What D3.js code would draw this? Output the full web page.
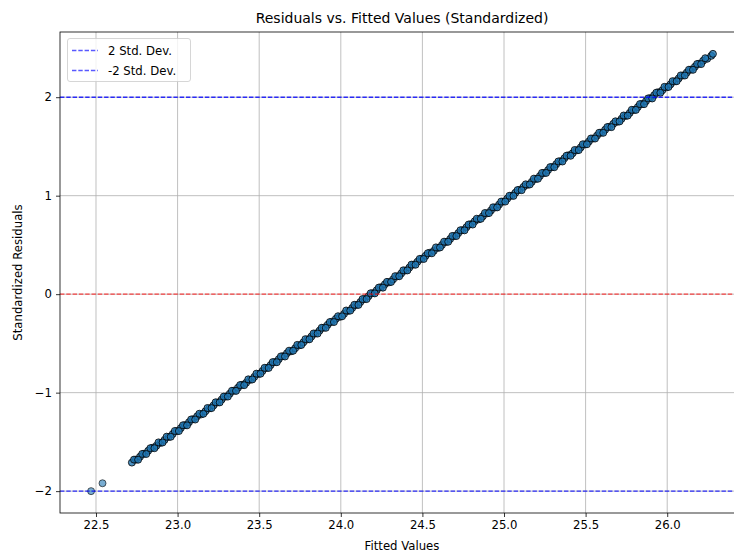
<!DOCTYPE html>
<html>
<head>
<meta charset="utf-8">
<script src="https://cdn.jsdelivr.net/npm/d3@7"></script>
<style>
html,body{margin:0;padding:0;background:#fff;}
svg{display:block;font-family:"DejaVu Sans",sans-serif;}
</style>
</head>
<body>
<svg id="chart" width="734" height="556"></svg>
<script>
// ---- data ----
const outlierFitted = [22.47, 22.54];
const outlierResiduals = [-2.00, -1.92];
const fittedValues = [
22.720,22.745,22.770,22.795,22.820,22.845,22.870,22.895,22.920,22.945,
22.970,22.995,23.020,23.045,23.070,23.095,23.120,23.145,23.170,23.195,
23.220,23.245,23.270,23.295,23.320,23.345,23.370,23.395,23.420,23.445,
23.470,23.495,23.520,23.545,23.570,23.595,23.620,23.645,23.670,23.695,
23.720,23.745,23.770,23.795,23.820,23.845,23.870,23.895,23.920,23.945,
23.970,23.995,24.020,24.045,24.070,24.095,24.120,24.145,24.170,24.195,
24.220,24.245,24.270,24.295,24.320,24.345,24.370,24.395,24.420,24.445,
24.470,24.495,24.520,24.545,24.570,24.595,24.620,24.645,24.670,24.695,
24.720,24.745,24.770,24.795,24.820,24.845,24.870,24.895,24.920,24.945,
24.970,24.995,25.020,25.045,25.070,25.095,25.120,25.145,25.170,25.195,
25.220,25.245,25.270,25.295,25.320,25.345,25.370,25.395,25.420,25.445,
25.470,25.495,25.520,25.545,25.570,25.595,25.620,25.645,25.670,25.695,
25.720,25.745,25.770,25.795,25.820,25.845,25.870,25.895,25.920,25.945,
25.970,25.995,26.020,26.045,26.070,26.095,26.120,26.145,26.170,26.195,
26.220,26.245,26.270,26.280];
const standardizedResiduals = [
-1.71,-1.68,-1.65,-1.62,-1.59,-1.56,-1.54,-1.51,-1.48,-1.45,
-1.42,-1.39,-1.36,-1.33,-1.30,-1.27,-1.24,-1.22,-1.19,-1.16,
-1.13,-1.10,-1.07,-1.04,-1.01,-0.98,-0.95,-0.92,-0.90,-0.87,
-0.84,-0.81,-0.78,-0.75,-0.72,-0.69,-0.66,-0.63,-0.60,-0.58,
-0.55,-0.52,-0.49,-0.46,-0.43,-0.40,-0.37,-0.34,-0.31,-0.28,
-0.25,-0.23,-0.20,-0.17,-0.14,-0.11,-0.08,-0.05,-0.02,0.01,
0.04,0.07,0.10,0.12,0.15,0.18,0.21,0.24,0.27,0.30,
0.33,0.36,0.39,0.42,0.44,0.47,0.50,0.53,0.56,0.59,
0.62,0.65,0.68,0.71,0.74,0.76,0.79,0.82,0.85,0.88,
0.91,0.94,0.97,1.00,1.03,1.06,1.09,1.11,1.14,1.17,
1.20,1.23,1.26,1.29,1.32,1.35,1.38,1.41,1.43,1.46,
1.49,1.52,1.55,1.58,1.61,1.64,1.67,1.70,1.73,1.75,
1.78,1.81,1.84,1.87,1.90,1.93,1.96,1.99,2.02,2.05,
2.07,2.10,2.13,2.16,2.19,2.22,2.25,2.28,2.31,2.34,
2.37,2.39,2.42,2.44];
const fittedValuesB = [
22.733,22.758,22.783,22.808,22.833,22.858,22.883,22.908,22.933,22.958,
22.983,23.008,23.033,23.058,23.083,23.108,23.133,23.158,23.183,23.208,
23.233,23.258,23.283,23.308,23.333,23.358,23.383,23.408,23.433,23.458,
23.483,23.508,23.533,23.558,23.583,23.608,23.633,23.658,23.683,23.708,
23.733,23.758,23.783,23.808,23.833,23.858,23.883,23.908,23.933,23.958,
23.983,24.008,24.033,24.058,24.083,24.108,24.133,24.158,24.183,24.208,
24.233,24.258,24.283,24.308,24.333,24.358,24.383,24.408,24.433,24.458,
24.483,24.508,24.533,24.558,24.583,24.608,24.633,24.658,24.683,24.708,
24.733,24.758,24.783,24.808,24.833,24.858,24.883,24.908,24.933,24.958,
24.983,25.008,25.033,25.058,25.083,25.108,25.133,25.158,25.183,25.208,
25.233,25.258,25.283,25.308,25.333,25.358,25.383,25.408,25.433,25.458,
25.483,25.508,25.533,25.558,25.583,25.608,25.633,25.658,25.683,25.708,
25.733,25.758,25.783,25.808,25.833,25.858,25.883,25.908,25.933,25.958,
25.983,26.008,26.033,26.058,26.083,26.108,26.133,26.158,26.183,26.208,
26.233];
const standardizedResidualsB = [
-1.680,-1.681,-1.622,-1.623,-1.564,-1.564,-1.505,-1.506,-1.447,-1.448,
-1.389,-1.390,-1.331,-1.332,-1.272,-1.273,-1.214,-1.215,-1.156,-1.157,
-1.098,-1.099,-1.040,-1.040,-0.981,-0.982,-0.923,-0.924,-0.865,-0.866,
-0.807,-0.808,-0.748,-0.749,-0.690,-0.691,-0.632,-0.633,-0.574,-0.575,
-0.515,-0.516,-0.457,-0.458,-0.399,-0.400,-0.341,-0.342,-0.283,-0.283,
-0.224,-0.225,-0.166,-0.167,-0.108,-0.109,-0.050,-0.050,0.009,0.008,
0.067,0.066,0.125,0.124,0.183,0.182,0.242,0.241,0.300,0.299,
0.358,0.357,0.416,0.415,0.475,0.474,0.533,0.532,0.591,0.590,
0.649,0.648,0.707,0.707,0.766,0.765,0.824,0.823,0.882,0.881,
0.940,0.940,0.999,0.998,1.057,1.056,1.115,1.114,1.173,1.172,
1.231,1.231,1.290,1.289,1.348,1.347,1.406,1.405,1.464,1.463,
1.522,1.522,1.581,1.580,1.639,1.638,1.697,1.696,1.755,1.754,
1.814,1.813,1.872,1.871,1.930,1.929,1.988,1.987,2.046,2.045,
2.105,2.104,2.163,2.162,2.221,2.220,2.279,2.278,2.337,2.336,
2.396];
const xTicks = [22.5,23.0,23.5,24.0,24.5,25.0,25.5,26.0];
const yTicks = [-2,-1,0,1,2];
const refLines = [
  {value: 2, label: "2 Std. Dev.", color: "#0000ff", opacity: 0.8, legend: true},
  {value: -2, label: "-2 Std. Dev.", color: "#0000ff", opacity: 0.8, legend: true},
  {value: 0, label: "", color: "#ff0000", opacity: 0.7, legend: false}
];
const titleText = "Residuals vs. Fitted Values (Standardized)";
const xLabel = "Fitted Values";
const yLabel = "Standardized Residuals";

// ---- layout ----
const pL = 60, pR = 744, pT = 32, pB = 513;
const svg = d3.select("#chart");
const pts = [];
outlierFitted.forEach((f, i) => pts.push({f, r: outlierResiduals[i], o: 0.6}));
fittedValues.forEach((f, i) => pts.push({f, r: standardizedResiduals[i], o: 0.8}));
fittedValuesB.forEach((f, i) => pts.push({f, r: standardizedResidualsB[i], o: 0.8}));

const allF = pts.map(d => d.f), allR = pts.map(d => d.r);
const fx = d3.extent(allF), fy = d3.extent(allR);
const mx = (fx[1]-fx[0])*0.05, my = (fy[1]-fy[0])*0.05;
const x = d3.scaleLinear().domain([fx[0]-mx, fx[1]+mx]).range([pL, pR]);
const y = d3.scaleLinear().domain([fy[0]-my, fy[1]+my]).range([pB, pT]);

// grid
const grid = svg.append("g");
grid.selectAll(".gx").data(xTicks).join("line")
  .attr("x1", d => x(d)).attr("x2", d => x(d)).attr("y1", pT).attr("y2", pB)
  .attr("stroke", "#b0b0b0").attr("stroke-width", 0.8);
grid.selectAll(".gy").data(yTicks).join("line")
  .attr("y1", d => y(d)).attr("y2", d => y(d)).attr("x1", pL).attr("x2", pR)
  .attr("stroke", "#b0b0b0").attr("stroke-width", 0.8);

// points
svg.append("g").selectAll("circle").data(pts).join("circle")
  .attr("cx", d => x(d.f)).attr("cy", d => y(d.r)).attr("r", 3.5)
  .attr("fill", "#1f77b4").attr("fill-opacity", d => d.o)
  .attr("stroke", "#000").attr("stroke-opacity", d => d.o).attr("stroke-width", 1);

// reference lines
svg.append("g").selectAll("line").data(refLines).join("line")
  .attr("x1", pL).attr("x2", pR)
  .attr("y1", d => y(d.value)).attr("y2", d => y(d.value))
  .attr("stroke", d => d.color).attr("stroke-opacity", d => d.opacity)
  .attr("stroke-width", 1.4).attr("stroke-dasharray", "4.4,1.9");

// axes
const xAxis = svg.append("g").attr("transform", `translate(0,${pB})`)
  .call(d3.axisBottom(x).tickValues(xTicks).tickFormat(d3.format(".1f")).tickSize(4).tickPadding(4));
const yAxis = svg.append("g").attr("transform", `translate(${pL},0)`)
  .call(d3.axisLeft(y).tickValues(yTicks).tickFormat(d3.format("d")).tickSize(4).tickPadding(4));
[xAxis, yAxis].forEach(a => {
  a.selectAll("text").attr("font-size", 11.7).attr("fill", "#000").attr("font-family", "DejaVu Sans");
  a.selectAll(".tick line").attr("stroke", "#000").attr("stroke-width", 0.8);
  a.select(".domain").remove();
});
// spines
svg.append("rect").attr("x", pL).attr("y", pT).attr("width", pR-pL).attr("height", pB-pT)
  .attr("fill", "none").attr("stroke", "#000").attr("stroke-width", 0.8);

// title & labels
svg.append("text").attr("x", (pL+pR)/2).attr("y", 23).attr("text-anchor", "middle")
  .attr("font-size", 14).text(titleText);
svg.append("text").attr("x", (pL+pR)/2).attr("y", 550).attr("text-anchor", "middle")
  .attr("font-size", 11.7).text(xLabel);
svg.append("text").attr("transform", `translate(22,${(pT+pB)/2}) rotate(-90)`)
  .attr("text-anchor", "middle").attr("font-size", 11.7).text(yLabel);

// legend
const leg = svg.append("g");
leg.append("rect").attr("x", 67.5).attr("y", 38.5).attr("width", 123).attr("height", 43).attr("rx", 2.5)
  .attr("fill", "#fff").attr("fill-opacity", 0.8).attr("stroke", "#cccccc").attr("stroke-width", 0.8);
const legItems = refLines.filter(d => d.legend);
legItems.forEach((d, i) => {
  const cy = 50.5 + i * 20;
  leg.append("line").attr("x1", 72).attr("x2", 98).attr("y1", cy).attr("y2", cy)
    .attr("stroke", d.color).attr("stroke-opacity", 0.65).attr("stroke-width", 1.4)
    .attr("stroke-dasharray", "4.4,1.9");
  leg.append("text").attr("x", 108).attr("y", cy + 4).attr("font-size", 11.7).text(d.label);
});
</script>
</body>
</html>
